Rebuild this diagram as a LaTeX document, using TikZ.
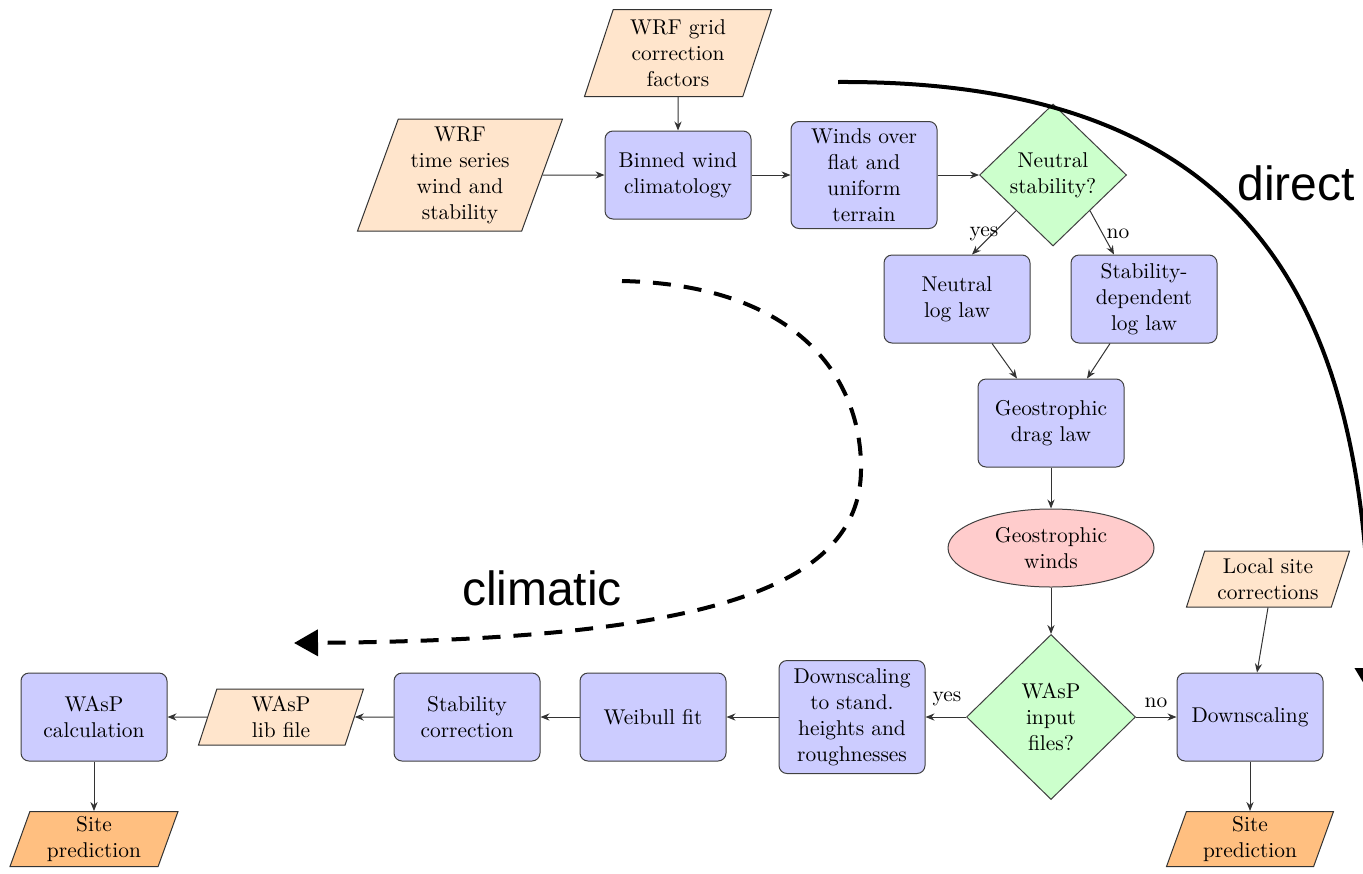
\documentclass[tikz,border=0pt]{standalone}
\usepackage{fontspec}
\newfontfamily\arialfont{Liberation Sans}
\usetikzlibrary{shapes.geometric,arrows.meta}
\begin{document}
\begin{tikzpicture}[x=0.5pt,y=-0.5pt,
  every node/.style={font=\fontsize{10.7}{13}\selectfont, text=black},
  proc/.style={draw=black!75, fill=blue!20, rounded corners=4pt, align=center,
    minimum width=73pt, minimum height=44pt, inner sep=1pt, line width=0.5pt},
  io/.style={trapezium, trapezium left angle=68, trapezium right angle=112,
    trapezium stretches body, draw=black!80, fill=orange!20, align=center,
    inner sep=1pt, line width=0.5pt},
  outp/.style={io, fill=orange!50},
  decide/.style={diamond, draw=black!75, fill=green!20, align=center,
    inner sep=0pt, line width=0.5pt},
  term/.style={ellipse, draw=black!75, fill=red!20, align=center,
    minimum width=103pt, minimum height=39pt, inner sep=0pt, line width=0.5pt},
  conn/.style={draw=black!80, line width=0.5pt, -{Stealth[length=4.5pt,width=3.6pt]}},
  lbl/.style={inner sep=0pt},
  big/.style={font=\arialfont\fontsize{24}{28}\selectfont, inner sep=0pt},
  bigline/.style={line width=2pt, draw=black}
]
\useasboundingbox (0,0) rectangle (1363,873);

% top row
\node[io, minimum width=93.5pt, minimum height=43.5pt] (grid) at (678,53) {WRF grid\\correction\\factors};
\node[io, minimum width=102.5pt, minimum height=56pt] (ts) at (460,175) {WRF\\time series\\wind and\\stability};
\node[proc] (binned) at (678,175) {Binned wind\\climatology};
\node[proc, minimum height=53.5pt] (flat) at (864,175) {Winds over\\flat and\\uniform\\terrain};
\node[decide, minimum width=73.5pt, minimum height=71pt] (neutral) at (1053,175) {Neutral\\stability?};

% second row
\node[proc] (nlog) at (957,299) {Neutral\\log law};
\node[proc] (sdl) at (1144,299) {Stability-\\dependent\\log law};
\node[proc] (drag) at (1051,423) {Geostrophic\\drag law};
\node[term] (gw) at (1051,548) {Geostrophic\\winds};
\node[decide, minimum width=84.5pt, minimum height=82.5pt] (wasp) at (1051,717) {WAsP\\input\\files?};

% bottom row
\node[proc] (dsc) at (1250,717) {Downscaling};
\node[io, minimum width=81.5pt, minimum height=28pt] (local) at (1268,579) {Local site\\corrections};
\node[outp, minimum width=83.5pt, minimum height=27.5pt] (site2) at (1250,839) {Site\\prediction};
\node[proc, minimum height=56.5pt] (down) at (852,717) {Downscaling\\to stand.\\heights and\\roughnesses};
\node[proc] (weib) at (653,717) {Weibull fit};
\node[proc] (stab) at (467,717) {Stability\\correction};
\node[io, minimum width=82.5pt, minimum height=28pt] (lib) at (281,717) {WAsP\\lib file};
\node[proc] (calc) at (94,717) {WAsP\\calculation};
\node[outp, minimum width=84pt, minimum height=27.5pt] (site1) at (94,839) {Site\\prediction};

% connectors
\draw[conn] (ts.east) -- (binned.west);
\draw[conn] (grid.south) -- (binned.north);
\draw[conn] (binned) -- (flat);
\draw[conn] (flat) -- (neutral);
\draw[conn] (neutral.south west) -- ([xshift=7.5pt]nlog.north);
\draw[conn] (neutral.south east) -- ([xshift=-15pt]sdl.north);
\node[lbl] (yes1) at (984,234) {yes};
\node[lbl] (no1) at (1118,234) {no};
\draw[conn] ([xshift=17.5pt]nlog.south) -- ([xshift=-17pt]drag.north);
\draw[conn] ([xshift=-17pt]sdl.south) -- ([xshift=18pt]drag.north);
\draw[conn] (drag) -- (gw);
\draw[conn] (gw) -- (wasp);
\draw[conn] (wasp) -- (down);
\node[lbl] (yes2) at (947,699) {yes};
\draw[conn] (wasp) -- (dsc);
\node[lbl] (no2) at (1156,703) {no};
\draw[conn] (local.south) -- ([xshift=3.5pt]dsc.north);
\draw[conn] (dsc) -- (site2);
\draw[conn] (down) -- (weib);
\draw[conn] (weib) -- (stab);
\draw[conn] (stab.west) -- (lib.east);
\draw[conn] (lib.west) -- (calc.east);
\draw[conn] (calc) -- (site1);

% direct arrow
\coordinate (dstart) at (838,82);
\coordinate (dend) at (1370,694);
\draw[bigline, -{Triangle[length=13pt,width=15pt]}] (dstart) .. controls (1250,80) and (1370,300) .. (dend);
\node[big] (direct) at (1296,183) {direct};

% climatic arrow
\coordinate (cstart) at (622,281);
\coordinate (cmid) at (861,470);
\coordinate (cend) at (294,643);
\draw[bigline, dash pattern=on 9pt off 6.5pt, -{Triangle[length=12pt,width=13pt]}]
  (cstart) .. controls (800,285) and (862,380) .. (cmid)
  .. controls (860,590) and (700,640) .. (cend);
\node[big] (climatic) at (542,588) {climatic};
\end{tikzpicture}
\end{document}
